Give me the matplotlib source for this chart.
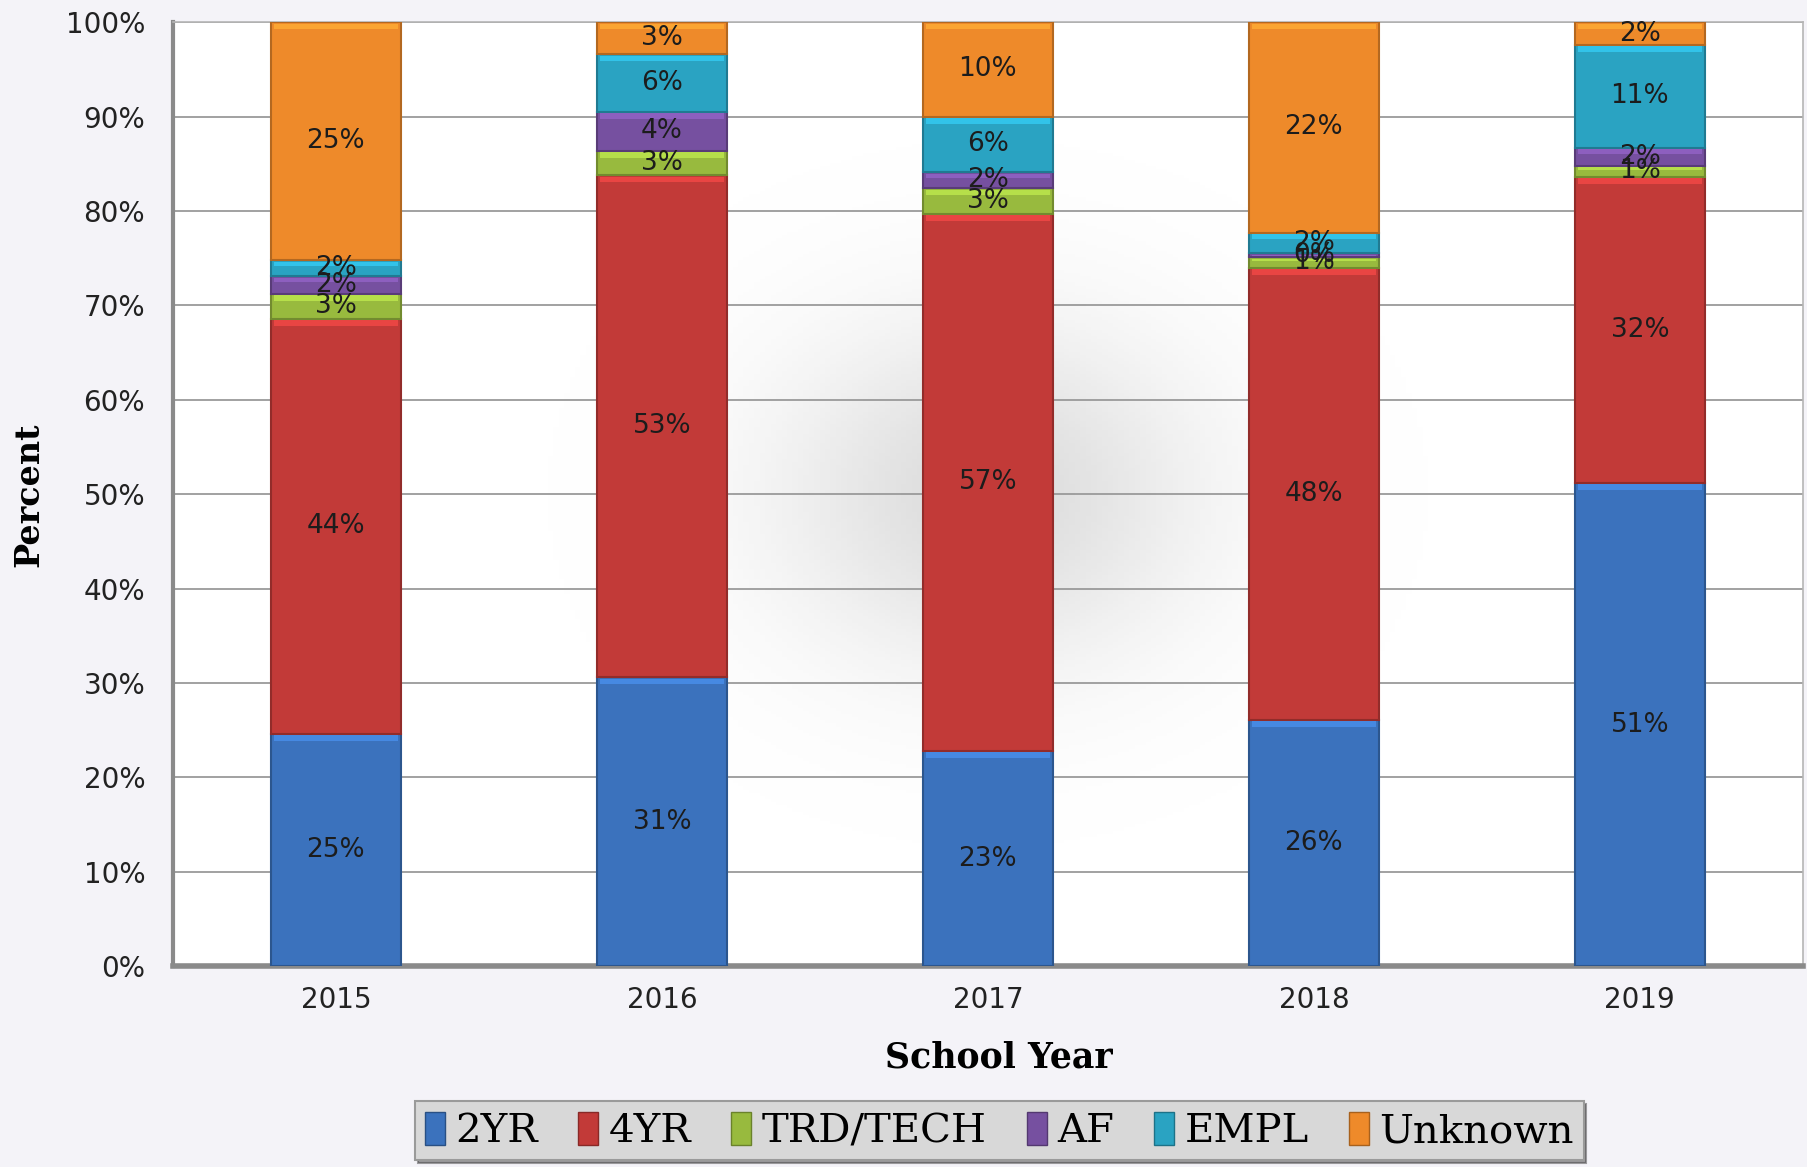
"""Stacked 100% bar chart: post-graduation outcomes by school year."""
import numpy as np
import matplotlib
matplotlib.use("Agg")
import matplotlib.pyplot as plt
from matplotlib.patches import Patch
from matplotlib.colors import to_rgb

years = ["2015", "2016", "2017", "2018", "2019"]
categories = ["2YR", "4YR", "TRD/TECH", "AF", "EMPL", "Unknown"]
two_yr = [24.6, 30.6, 22.8, 26.1, 51.2]
four_yr = [44.0, 53.2, 56.9, 47.9, 32.4]
trd_tech = [2.6, 2.6, 2.7, 1.1, 1.2]
af = [1.9, 4.1, 1.7, 0.4, 1.9]
empl = [1.7, 6.1, 5.9, 2.2, 10.9]
unknown = [25.2, 3.4, 10.0, 22.3, 2.4]
series = [two_yr, four_yr, trd_tech, af, empl, unknown]
colors = ["#3b72bd", "#c23a38", "#98ba3e", "#7650a0", "#2aa3c2", "#ee8a2a"]


def shade(c, f):
    r = np.array(to_rgb(c))
    return tuple(np.clip(r * f, 0, 1))


fig = plt.figure(figsize=(18.07, 11.67), dpi=100, facecolor="#f4f3f8")
ax = fig.add_axes([0.0957, 0.172, 0.902, 0.809])
ax.set_facecolor("white")

# soft grey shadow in the middle of the plot area
gx, gy = np.meshgrid(np.linspace(0, 1, 300), np.linspace(0, 1, 300))
g = np.exp(-(((gx - 0.5) / 0.13) ** 2 + ((gy - 0.5) / 0.18) ** 2))
shadow = np.zeros((300, 300, 4))
shadow[..., :3] = 0.55
shadow[..., 3] = 0.3 * g
ax.imshow(shadow, extent=[0, 1, 0, 1], transform=ax.transAxes, aspect="auto", zorder=0)

x = np.arange(len(years))
bottom = np.zeros(len(years))
for name, vals, c in zip(categories, series, colors):
    vals = np.array(vals)
    ax.bar(x, vals, 0.4, bottom=bottom, color=c, edgecolor=shade(c, 0.75), linewidth=1.5, zorder=3)
    # bevel highlight along the top of each segment
    hl = np.minimum(vals * 0.25, 0.6)
    ax.bar(x, hl, 0.38, bottom=bottom + vals - hl - 0.15, color=shade(c, 1.25), linewidth=0, zorder=4, alpha=0.8)
    for xi, b, v in zip(x, bottom, vals):
        ax.text(xi, b + v / 2, f"{round(v)}%", ha="center", va="center", fontsize=19,
                color="#1c1c1c", zorder=5)
    bottom += vals

ax.set_xlim(-0.5, 4.5)
ax.set_ylim(0, 100)
ax.set_yticks(np.arange(0, 101, 10))
ax.set_yticklabels([f"{v}%" for v in range(0, 101, 10)], fontsize=20, color="#222222")
ax.set_xticks(x)
ax.set_xticklabels(years, fontsize=20, color="#222222")
ax.tick_params(length=0, pad=14)
ax.tick_params(axis="y", pad=20)
ax.grid(axis="y", color="#9a9a9a", lw=1.3, zorder=1)
for s in ["top", "right"]:
    ax.spines[s].set_color("#b5b5b5")
    ax.spines[s].set_linewidth(1.2)
ax.spines["left"].set_color("#8a8a8a")
ax.spines["left"].set_linewidth(3)
ax.spines["bottom"].set_color("#8a8a8a")
ax.spines["bottom"].set_linewidth(4)

fig.text(0.553, 0.094, "School Year", ha="center", va="center", fontsize=25,
         fontweight="bold", family="DejaVu Serif")
fig.text(0.016, 0.576, "Percent", ha="center", va="center", rotation=90, fontsize=24,
         fontweight="bold", family="DejaVu Serif")

handles = [Patch(facecolor=c, edgecolor=shade(c, 0.7)) for c in colors]
leg = fig.legend(handles, categories, loc="center", bbox_to_anchor=(0.553, 0.031), ncol=6,
                 prop={"family": "DejaVu Serif", "size": 29}, handlelength=0.5, handleheight=0.9,
                 handletextpad=0.25, columnspacing=1.0, borderpad=0.25, frameon=True, fancybox=False,
                 shadow=True)
leg.get_frame().set_facecolor("#d8d8d8")
leg.get_frame().set_edgecolor("#9a9a9a")
leg.get_frame().set_linewidth(1.5)

fig.savefig("out.png", dpi=100, facecolor=fig.get_facecolor())
